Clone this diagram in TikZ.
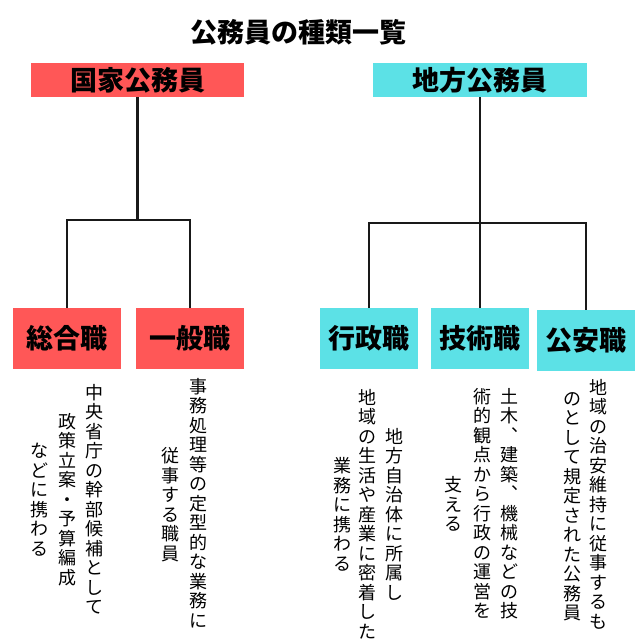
\documentclass[tikz,border=0pt]{standalone}
\usepackage{fontspec}
\setmainfont{Noto Sans CJK JP}
\definecolor{kred}{HTML}{FF5757}
\definecolor{kcyan}{HTML}{5CE1E6}
% one vertical column of characters
\newcommand\tate[1]{\vbox{\offinterlineskip\tateA#1\relax}}
\def\tateA#1{\ifx\relax#1\else
  \hbox to 19.5pt{\hss\vrule height 16.2pt depth 3.3pt width 0pt\relax#1\hss}%
  \expandafter\tateA\fi}

\begin{document}
\begin{tikzpicture}[x=1pt,y=1pt]
\useasboundingbox (0,0) rectangle (640,640);
\tikzstyle{hnode}=[inner sep=0pt, minimum height=34pt,
  font=\fontsize{27}{30}\selectfont\bfseries]
\tikzstyle{snode}=[inner sep=0pt, minimum height=61pt,
  font=\fontsize{27}{30}\selectfont\bfseries]
\tikzstyle{tcol}=[inner sep=0pt, font=\fontsize{18}{19.5}\selectfont]
\tikzstyle{conn}=[line width=2.6pt, black!90]
\node[font=\fontsize{27}{30}\selectfont\bfseries] (title) at (298.5,608) {公務員の種類一覧};
\node[hnode, fill=kred, minimum width=213pt] (kokka) at (137.5,560) {国家公務員};
\node[hnode, fill=kcyan, minimum width=214pt] (chiho) at (480,560) {地方公務員};
\node[snode, fill=kred, minimum width=108pt] (sogo) at (67,301.5) {総合職};
\node[snode, fill=kred, minimum width=108pt] (ippan) at (190,301.5) {一般職};
\node[snode, fill=kcyan, minimum width=98pt] (gyosei) at (369,301.5) {行政職};
\node[snode, fill=kcyan, minimum width=98pt] (gijutsu) at (480,301.5) {技術職};
\node[snode, fill=kcyan, minimum width=98pt] (koan) at (586,299.5) {公安職};
% connectors
\coordinate (kj) at (137.5,420);
\coordinate (cj) at (480,417);
\draw[conn] (kokka.south) -- (kj);
\draw[conn] (sogo.north) |- (kj) -| (ippan.north);
\draw[conn] (chiho.south) -- (gijutsu.north);
\draw[conn] (gyosei.north) |- (cj) -| (koan.north);
% descriptions, columns read right to left
\node[tcol] (sogoa) at (94,140) {\tate{中央省庁の幹部候補として}};
\node[tcol] (sogob) at (67,140) {\tate{政策立案・予算編成}};
\node[tcol] (sogoc) at (39,140) {\tate{などに携わる}};
\node[tcol] (ippana) at (198,136) {\tate{事務処理等の定型的な業務に}};
\node[tcol] (ippanb) at (170,135) {\tate{従事する職員}};
\node[tcol] (gyoseia) at (394,125) {\tate{地方自治体に所属し}};
\node[tcol] (gyoseib) at (367,125) {\tate{地域の生活や産業に密着した}};
\node[tcol] (gyoseic) at (342,125) {\tate{業務に携わる}};
\node[tcol] (gijutsua) at (509,136) {\tate{土木︑建築︑機械などの技}};
\node[tcol] (gijutsub) at (482,136) {\tate{術的観点から行政の運営を}};
\node[tcol] (gijutsuc) at (453,135) {\tate{支える}};
\node[tcol] (koana) at (598,135) {\tate{地域の治安維持に従事するも}};
\node[tcol] (koanb) at (572,134) {\tate{のとして規定された公務員}};
\end{tikzpicture}
\end{document}
